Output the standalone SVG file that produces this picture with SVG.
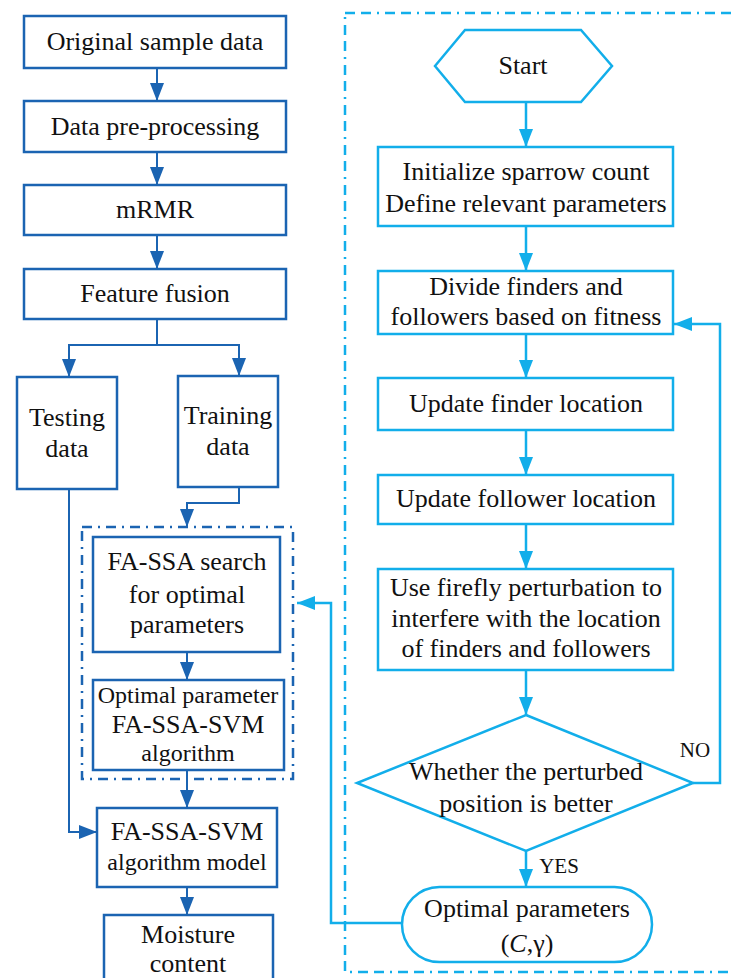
<svg xmlns="http://www.w3.org/2000/svg" width="731" height="978" viewBox="0 0 731 978" font-family="'Liberation Serif', 'Times New Roman', 'DejaVu Serif', serif">
  <defs>
    <marker id="ah-dark" viewBox="0 0 18 14" refX="18" refY="7" markerWidth="18" markerHeight="14" markerUnits="userSpaceOnUse" orient="auto">
      <path d="M0,0 L18,7 L0,14 z" fill="#1b64b2"/>
    </marker>
    <marker id="ah-light" viewBox="0 0 18 14" refX="18" refY="7" markerWidth="18" markerHeight="14" markerUnits="userSpaceOnUse" orient="auto">
      <path d="M0,0 L18,7 L0,14 z" fill="#12aeea"/>
    </marker>
  </defs>
  <style>
    text { font-family: 'Liberation Serif', 'Times New Roman', 'DejaVu Serif', serif; font-size: 26px; fill: #111; text-anchor: middle; }
    .sm { font-size: 24px; }
    .lbl { font-size: 21px; }
    .dk { fill: #fff; stroke: #1b64b2; stroke-width: 2.5; }
    .lt { fill: #fff; stroke: #12aeea; stroke-width: 2.5; }
    .c-dk { fill: none; stroke: #1b64b2; stroke-width: 2; marker-end: url(#ah-dark); }
    .c-dk-plain { fill: none; stroke: #1b64b2; stroke-width: 2; }
    .c-lt { fill: none; stroke: #12aeea; stroke-width: 2.5; marker-end: url(#ah-light); }
    .frame-lt { fill: none; stroke: #12aeea; stroke-width: 2.5; stroke-dasharray: 10 6 10 6 2 6; }
    .frame-dk { fill: none; stroke: #1b64b2; stroke-width: 2.5; stroke-dasharray: 10 6 2 6; }
  </style>

  <rect width="731" height="978" fill="#fff"/>

  <!-- group frames -->
  <g id="frames">
    <rect class="frame-lt" x="345" y="13" width="400" height="959"/>
    <rect class="frame-dk" x="82" y="527" width="211" height="252"/>
  </g>

  <!-- connectors -->
  <g id="connectors">
    <line class="c-dk" x1="157" y1="68" x2="157" y2="101"/>
    <line class="c-dk" x1="157" y1="152" x2="157" y2="185"/>
    <line class="c-dk" x1="157" y1="235" x2="157" y2="269"/>
    <polyline class="c-dk-plain" points="157,319 157,345"/>
    <polyline class="c-dk" points="157,345 69,345 69,377"/>
    <polyline class="c-dk" points="157,345 239,345 239,376"/>
    <polyline class="c-dk" points="239,487 239,503 187,503 187,527"/>
    <line class="c-dk" x1="187" y1="652" x2="187" y2="680"/>
    <line class="c-dk" x1="187" y1="770" x2="187" y2="808"/>
    <polyline class="c-dk" points="69,489 69,832 97,832"/>
    <line class="c-dk" x1="187" y1="887" x2="187" y2="915"/>

    <line class="c-lt" x1="526" y1="102" x2="526" y2="147"/>
    <line class="c-lt" x1="526" y1="226" x2="526" y2="271"/>
    <line class="c-lt" x1="526" y1="334" x2="526" y2="378"/>
    <line class="c-lt" x1="526" y1="430" x2="526" y2="475"/>
    <line class="c-lt" x1="526" y1="524" x2="526" y2="569"/>
    <line class="c-lt" x1="526" y1="670" x2="526" y2="715"/>
    <line class="c-lt" x1="526" y1="851" x2="526" y2="887"/>
    <polyline class="c-lt" points="693,783 720,783 720,324 674,324"/>
    <polyline class="c-lt" points="402,923 331,923 331,603 297,603"/>
    <text class="lbl" x="695" y="757">NO</text>
    <text class="lbl" x="559" y="873">YES</text>
  </g>

  <!-- left column -->
  <g id="original-sample-data">
    <rect class="dk" x="24" y="16" width="262" height="52"/>
    <text x="155" y="50">Original sample data</text>
  </g>
  <g id="data-pre-processing">
    <rect class="dk" x="24" y="101" width="262" height="51"/>
    <text x="155" y="135">Data pre-processing</text>
  </g>
  <g id="mrmr">
    <rect class="dk" x="24" y="185" width="262" height="50"/>
    <text x="155" y="218">mRMR</text>
  </g>
  <g id="feature-fusion">
    <rect class="dk" x="24" y="269" width="262" height="50"/>
    <text x="155" y="302">Feature fusion</text>
  </g>
  <g id="testing-data">
    <rect class="dk" x="17" y="377" width="100" height="112"/>
    <text x="67" y="426">Testing</text>
    <text x="67" y="457">data</text>
  </g>
  <g id="training-data">
    <rect class="dk" x="178" y="376" width="100" height="111"/>
    <text x="228" y="424">Training</text>
    <text x="228" y="455">data</text>
  </g>
  <g id="fa-ssa-search">
    <rect class="dk" x="93" y="537" width="187" height="115"/>
    <text x="187" y="570">FA-SSA search</text>
    <text x="187" y="603">for optimal</text>
    <text x="187" y="633">parameters</text>
  </g>
  <g id="optimal-parameter">
    <rect class="dk" x="93" y="680" width="191" height="90"/>
    <text class="sm" x="188" y="703">Optimal parameter</text>
    <text x="188" y="733">FA-SSA-SVM</text>
    <text class="sm" x="188" y="761">algorithm</text>
  </g>
  <g id="fa-ssa-svm-model">
    <rect class="dk" x="97" y="808" width="180" height="79"/>
    <text x="187" y="840">FA-SSA-SVM</text>
    <text class="sm" x="187" y="870">algorithm model</text>
  </g>
  <g id="moisture-content">
    <rect class="dk" x="104" y="915" width="169" height="80"/>
    <text x="188" y="943">Moisture</text>
    <text x="188" y="972">content</text>
  </g>

  <!-- right column -->
  <g id="start">
    <polygon class="lt" points="435,66 465,30 581,30 612,66 581,102 465,102"/>
    <text x="523" y="74">Start</text>
  </g>
  <g id="initialize">
    <rect class="lt" x="378" y="147" width="295" height="79"/>
    <text x="526" y="180">Initialize sparrow count</text>
    <text x="526" y="212">Define relevant parameters</text>
  </g>
  <g id="divide">
    <rect class="lt" x="378" y="271" width="295" height="63"/>
    <text x="526" y="295">Divide finders and</text>
    <text x="526" y="325">followers based on fitness</text>
  </g>
  <g id="update-finder">
    <rect class="lt" x="378" y="378" width="295" height="52"/>
    <text x="526" y="412">Update finder location</text>
  </g>
  <g id="update-follower">
    <rect class="lt" x="378" y="475" width="295" height="49"/>
    <text x="526" y="507">Update follower location</text>
  </g>
  <g id="firefly-perturbation">
    <rect class="lt" x="378" y="569" width="295" height="101"/>
    <text x="526" y="596">Use firefly perturbation to</text>
    <text x="526" y="627">interfere with the location</text>
    <text x="526" y="657">of finders and followers</text>
  </g>
  <g id="decision">
    <polygon class="lt" points="526,715 693,783 526,851 357,783"/>
    <text x="526" y="780">Whether the perturbed</text>
    <text x="526" y="812">position is better</text>
  </g>
  <g id="optimal-parameters">
    <rect class="lt" x="402" y="887" width="250" height="75" rx="37.5" ry="37.5"/>
    <text x="527" y="917">Optimal parameters</text>
    <text x="527" y="952">(<tspan font-style="italic">C</tspan>,γ)</text>
  </g>
</svg>
